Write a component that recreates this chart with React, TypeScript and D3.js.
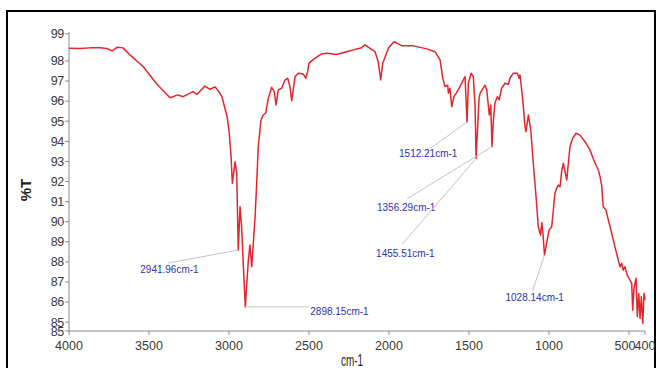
import React from "react";
import * as d3 from "d3";

// ---- Data ----
const wavenumbers = [
  4000, 3931, 3869, 3806, 3763, 3731, 3700, 3662, 3619, 3537, 3450, 3369, 3319, 3287, 3225, 3200,
  3150, 3119, 3087, 3056, 3044, 3012, 3000, 2987, 2979, 2962, 2952, 2941.96, 2931, 2921, 2911,
  2898.15, 2879, 2869, 2858, 2848, 2842, 2837, 2827, 2817, 2800, 2786, 2771, 2754, 2733, 2717,
  2706, 2692, 2671, 2650, 2633, 2619, 2608, 2587, 2567, 2536, 2521, 2509, 2500, 2473, 2421, 2389,
  2327, 2264, 2223, 2171, 2150, 2119, 2087, 2067, 2052, 2039, 2004, 1969, 1921, 1848, 1764, 1712,
  1681, 1664, 1650, 1633, 1629, 1619, 1608, 1594, 1567, 1536, 1525, 1512.21, 1504, 1487, 1473,
  1462, 1455.51, 1437, 1431, 1400, 1389, 1373, 1364, 1356.29, 1348, 1338, 1323, 1311, 1296, 1275,
  1254, 1244, 1223, 1198, 1186, 1181, 1164, 1150, 1144, 1129, 1114, 1098, 1081, 1067, 1053, 1045,
  1037, 1028.14, 1011, 1000, 983, 973, 963, 952, 942, 931, 921, 911, 900, 889, 879, 869, 852, 831,
  806, 775, 744, 712, 692, 681, 671, 661, 644, 629, 608, 588, 567, 556, 546, 536, 525, 511, 494,
  483, 477, 469, 456, 448, 439, 431, 423, 414, 406, 400,
];
const transmittance = [
  98.63, 98.62, 98.65, 98.66, 98.62, 98.5, 98.68, 98.65, 98.3, 97.72, 96.84, 96.17, 96.31, 96.22,
  96.47, 96.34, 96.75, 96.59, 96.71, 96.39, 96.22, 95.23, 94.56, 93.23, 91.91, 92.98, 92.42, 88.59,
  90.74, 89.75, 87.93, 85.76, 88.09, 88.84, 87.76, 88.92, 89.67, 90.25, 91.91, 93.73, 95.06, 95.31,
  95.4, 96.14, 96.69, 96.47, 95.81, 96.56, 96.64, 97.05, 97.14, 96.72, 96.02, 97.22, 97.39, 97.35,
  97.14, 97.45, 97.89, 98.08, 98.35, 98.38, 98.32, 98.46, 98.55, 98.66, 98.8, 98.63, 98.46, 97.95,
  97.05, 97.89, 98.63, 98.96, 98.76, 98.75, 98.6, 98.46, 98.05, 97.14, 96.72, 96.8, 96.39, 96.64,
  95.72, 96.22, 96.56, 97.05, 97.22, 94.96, 96.89, 97.39, 97.22, 95.72, 93.15, 96.14, 96.39, 96.8,
  96.56, 95.31, 95.81, 93.73, 94.98, 95.89, 96.22, 96.06, 96.64, 96.89, 96.84, 97.14, 97.39, 97.39,
  97.14, 97.3, 96.06, 94.73, 94.48, 95.31, 94.56, 92.91, 91.24, 89.75, 89.33, 89.95, 89.33, 88.34,
  89.09, 89.58, 89.75, 90.58, 91.41, 91.66, 91.82, 91.74, 92.49, 92.91, 92.49, 92.07, 92.91, 93.73,
  94.15, 94.4, 94.31, 93.98, 93.57, 92.91, 92.57, 92.24, 91.82, 90.74, 90.58, 90.08, 89.42, 88.75,
  88.09, 87.76, 87.93, 87.59, 87.76, 87.34, 87.09, 86.93, 85.6, 86.68, 87.18, 85.27, 86.43, 85.19,
  86.26, 84.94, 86.43, 86.1,
];

const xTickValues = [4000, 3500, 3000, 2500, 2000, 1500, 1000, 500, 400];
const xTickLabels = ["4000", "3500", "3000", "2500", "2000", "1500", "1000", "500", "400"];
const yTickValues = [99.35, 98, 97, 96, 95, 94, 93, 92, 91, 90, 89, 88, 87, 86, 85, 84.56];
const yTickLabels = ["99", "98", "97", "96", "95", "94", "93", "92", "91", "90", "89", "88", "87", "86", "85", "85"];

const peakLabels = ["2941.96cm-1", "2898.15cm-1", "1512.21cm-1", "1356.29cm-1", "1455.51cm-1", "1028.14cm-1"];
const peakWavenumbers = [2941.96, 2898.15, 1512.21, 1356.29, 1455.51, 1028.14];
const peakTransmittance = [88.59, 85.76, 94.96, 93.73, 93.15, 88.34];

const xAxisTitle = "cm-1";
const yAxisTitle = "%T";

// ---- Layout (not data) ----
const W = 661;
const H = 368;
const plotLeft = 69;
const plotRight = 645;
const axisTop = 32;
const axisBottom = 331;
// leader line start offset and text offset relative to peak point
const labelLayout = [
  { lx: -70, ly: 13, tx: -98, ty: 23 },
  { lx: 64, ly: 0, tx: 65, ty: 8 },
  { lx: -39, ly: 28, tx: -68, ty: 35 },
  { lx: -85, ly: 52, tx: -115, ty: 64 },
  { lx: -74, ly: 86, tx: -100, ty: 99 },
  { lx: -12, ly: 36, tx: -39, ty: 46 },
];

export default function App() {
  const x = d3.scaleLinear().domain([4000, 400]).range([plotLeft, plotRight]);
  const y = d3.scaleLinear().domain([84.56, 99.44]).range([axisBottom, axisTop]);

  const pts: [number, number][] = wavenumbers.map((w, i) => [w, transmittance[i]]);
  const line = d3
    .line<[number, number]>()
    .x((d) => x(d[0]))
    .y((d) => y(d[1]))
    .curve(d3.curveLinear);

  const axisColor = "#8a8a8a";
  const tickText = "#3a3a3a";
  const font = "'Liberation Sans', Arial, sans-serif";

  return (
    <svg
      width={W}
      height={H}
      style={{ position: "absolute", left: 0, top: 0, background: "#fff" }}
      fontFamily={font}
    >
      <rect x={0} y={0} width={W} height={H} fill="#fff" />
      {/* frame */}
      <rect x={7} y={11} width={648} height={H} fill="none" stroke="#000" strokeWidth={2} />

      {/* y axis */}
      <line x1={plotLeft} x2={plotLeft} y1={axisTop} y2={axisBottom} stroke={axisColor} strokeWidth={1} />
      {yTickValues.map((v, i) => (
        <g key={"y" + i}>
          <line x1={plotLeft - 4} x2={plotLeft} y1={y(v)} y2={y(v)} stroke={axisColor} strokeWidth={1} />
          <text
            x={plotLeft - 5}
            y={y(v) + (i === yTickValues.length - 1 ? 1 : 0)}
            dy="0.35em"
            textAnchor="end"
            fontSize={12.5}
            fill={tickText}
            letterSpacing={-0.3}
          >
            {yTickLabels[i]}
          </text>
        </g>
      ))}

      {/* x axis */}
      <line x1={plotLeft} x2={plotRight} y1={axisBottom} y2={axisBottom} stroke={axisColor} strokeWidth={1} />
      {xTickValues.map((v, i) => (
        <g key={"x" + i}>
          <line x1={x(v)} x2={x(v)} y1={axisBottom} y2={axisBottom + 4} stroke={axisColor} strokeWidth={1} />
          <text
            x={x(v) + (xTickLabels[i] === "500" ? -4 : 0)}
            y={axisBottom + 19}
            textAnchor="middle"
            fontSize={12.5}
            fill={tickText}
          >
            {xTickLabels[i]}
          </text>
        </g>
      ))}

      {/* axis titles */}
      <text
        x={352}
        y={366}
        textAnchor="middle"
        fontSize={16}
        fill="#222"
        textLength={22}
        lengthAdjust="spacingAndGlyphs"
      >
        {xAxisTitle}
      </text>
      <text
        transform="translate(31,190) rotate(-90)"
        textAnchor="middle"
        fontSize={15}
        fontWeight="bold"
        fill="#222"
      >
        {yAxisTitle}
      </text>

      {/* spectrum */}
      <path d={line(pts) || ""} fill="none" stroke="#e3262b" strokeWidth={1.5} strokeLinejoin="round" />

      {/* peak annotations */}
      {peakLabels.map((lab, i) => {
        const px = x(peakWavenumbers[i]);
        const py = y(peakTransmittance[i]);
        const L = labelLayout[i];
        return (
          <g key={"p" + i}>
            <line x1={px + L.lx} y1={py + L.ly} x2={px} y2={py} stroke="#c4c4c4" strokeWidth={1} />
            <text x={px + L.tx} y={py + L.ty} fontSize={10} fill="#3030b0">
              {lab}
            </text>
          </g>
        );
      })}
    </svg>
  );
}
